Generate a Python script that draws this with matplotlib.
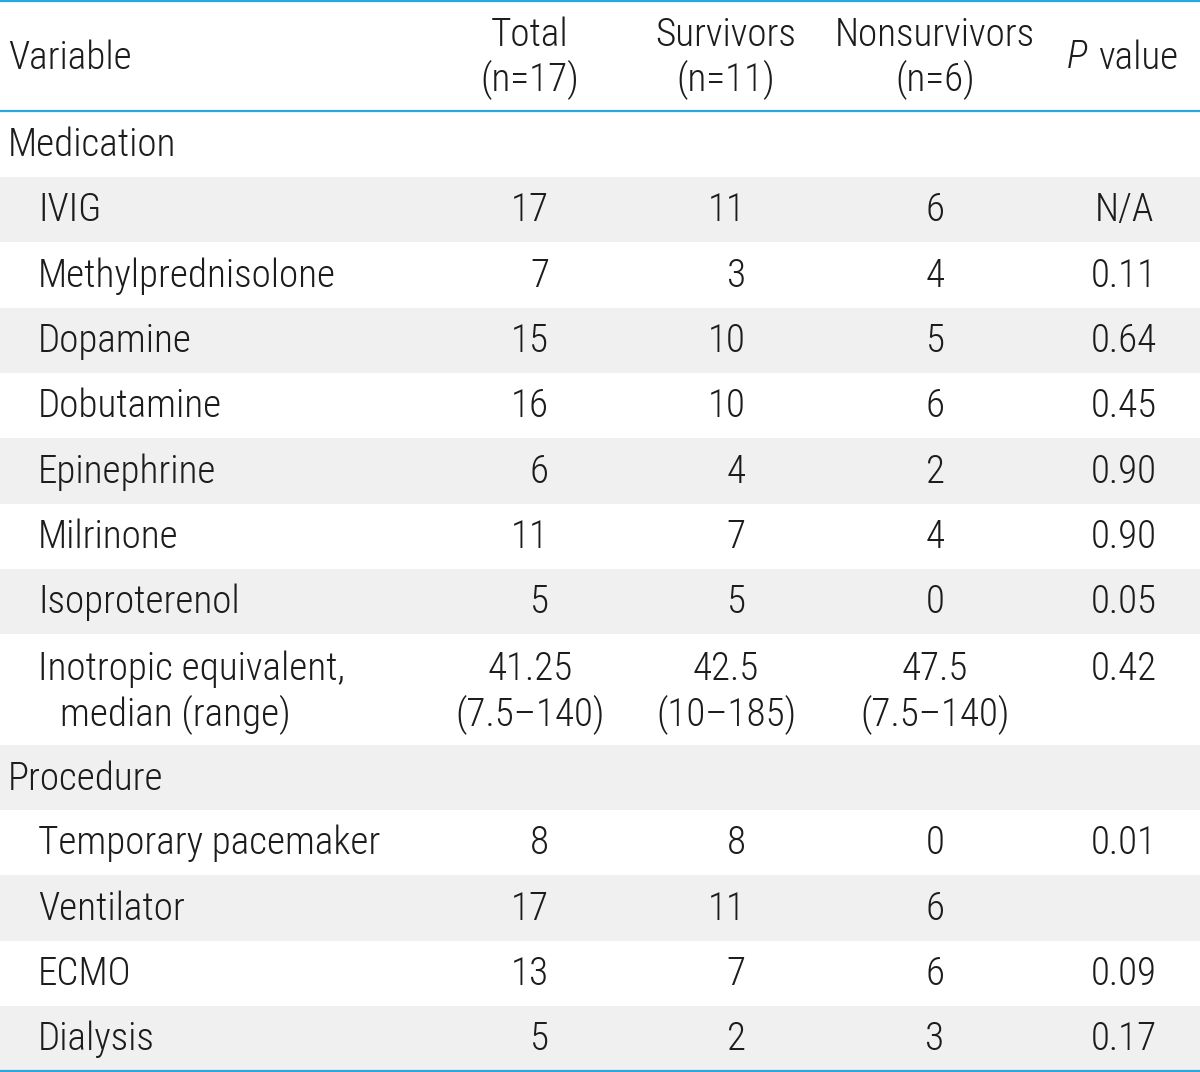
import matplotlib.pyplot as plt
from matplotlib.patches import Rectangle

# table contents
header_cols = ['Total\n(n=17)', 'Survivors\n(n=11)', 'Nonsurvivors\n(n=6)']
med_names = ['IVIG', 'Methylprednisolone', 'Dopamine', 'Dobutamine',
             'Epinephrine', 'Milrinone', 'Isoproterenol']
med_total = ['17', '7', '15', '16', '6', '11', '5']
med_surv = ['11', '3', '10', '10', '4', '7', '5']
med_non = ['6', '4', '5', '6', '2', '4', '0']
med_p = ['N/A', '0.11', '0.64', '0.45', '0.90', '0.90', '0.05']

ino_name = ['Inotropic equivalent,', 'median (range)']
ino_total = ['41.25', '(7.5\u2013140)']
ino_surv = ['42.5', '(10\u2013185)']
ino_non = ['47.5', '(7.5\u2013140)']
ino_p = '0.42'

proc_names = ['Temporary pacemaker', 'Ventilator', 'ECMO', 'Dialysis']
proc_total = ['8', '17', '13', '5']
proc_surv = ['8', '11', '7', '2']
proc_non = ['0', '6', '6', '3']
proc_p = ['0.01', '', '0.09', '0.17']

plt.rcParams['font.family'] = ['Roboto Condensed', 'DejaVu Sans']
plt.rcParams['font.weight'] = 300

W, H = 1200, 1072
fig = plt.figure(figsize=(12, 10.72), dpi=100)
ax = fig.add_axes([0, 0, 1, 1])
ax.set_xlim(0, W)
ax.set_ylim(H, 0)
ax.axis('off')

fs = 28.2
col = '#1c1c1c'
shade = '#f0f0f0'
blue = '#29a8e0'
rh = 65.3
x_var, x_ind = 8, 38
x_tot, x_surv, x_non, x_p = 549, 746, 935, 1124


def cell(x, y, s, ha='left', **kw):
    ax.text(x, y, s, fontsize=fs, color=col, va='center', ha=ha, **kw)


def row(y0, h, shaded):
    if shaded:
        ax.add_patch(Rectangle((0, y0), W, h, color=shade, lw=0, zorder=0))


# header
y_hdr = 111
cell(x_var, 58, 'Variable')
for cx, t in zip([530, 726, 935], header_cols):
    cell(cx, 58, t, ha='center', linespacing=1.2)
cell(1067, 58, 'P', style='italic')
cell(1098, 58, 'value')

y = y_hdr
# Medication group
row(y, 66, False)
cell(x_var, y + 34, 'Medication')
y += 66
shaded = True
for i in range(len(med_names)):
    row(y, rh, shaded)
    cy = y + rh / 2 + 1
    cell(x_ind, cy, med_names[i])
    cell(x_tot, cy, med_total[i], ha='right')
    cell(x_surv, cy, med_surv[i], ha='right')
    cell(x_non, cy, med_non[i], ha='center')
    cell(x_p, cy, med_p[i], ha='center')
    y += rh
    shaded = not shaded

# inotropic equivalent (two lines)
h2 = 111
row(y, h2, shaded)
for k in range(2):
    cy = y + 35 + 46 * k
    cell(x_ind + 22 * k, cy, ino_name[k])
    cell(530, cy, ino_total[k], ha='center')
    cell(726, cy, ino_surv[k], ha='center')
    cell(x_non, cy, ino_non[k], ha='center')
cell(x_p, y + 35, ino_p, ha='center')
y += h2
shaded = not shaded

# Procedure group
row(y, 65, shaded)
cell(x_var, y + 34, 'Procedure')
y += 65
shaded = not shaded
for i in range(len(proc_names)):
    row(y, rh, shaded)
    cy = y + rh / 2 + 1
    cell(x_ind, cy, proc_names[i])
    cell(x_tot, cy, proc_total[i], ha='right')
    cell(x_surv, cy, proc_surv[i], ha='right')
    cell(x_non, cy, proc_non[i], ha='center')
    cell(x_p, cy, proc_p[i], ha='center')
    y += rh
    shaded = not shaded

# rules
for yl in [1.2, y_hdr, min(y, H - 1.5)]:
    ax.plot([0, W], [yl, yl], color=blue, lw=1.6, solid_capstyle='butt')

fig.savefig('out.png', dpi=100)
